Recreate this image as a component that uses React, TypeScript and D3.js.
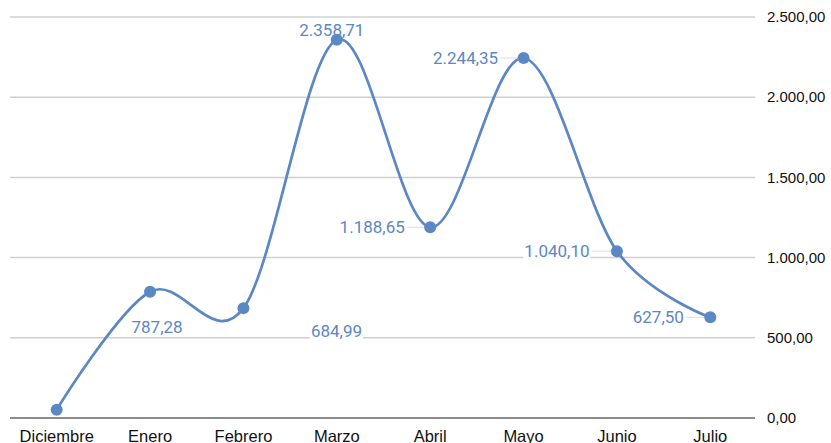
import { useEffect, useRef } from 'react';
import * as d3 from 'd3';

const months = ['Diciembre', 'Enero', 'Febrero', 'Marzo', 'Abril', 'Mayo', 'Junio', 'Julio'];
const amounts = [52, 787.28, 684.99, 2358.71, 1188.65, 2244.35, 1040.1, 627.5];
const showLabel = [false, true, true, true, true, true, true, true];
const yTicks = [0, 500, 1000, 1500, 2000, 2500];

// where each value label sits relative to its point
const labelOffsets = {
    Diciembre: [0, 0],
    Enero: [7, 35],
    Febrero: [93, 23],
    Marzo: [-5, -10],
    Abril: [-58, 0],
    Mayo: [-58, 0],
    Junio: [-60, 0],
    Julio: [-52, 0],
};

const W = 831;
const H = 443;
const BLUE = '#5b87c4';

const fmt = (v: number) => {
    const [int, dec] = v.toFixed(2).split('.');
    return `${int.replace(/\B(?=(\d{3})+(?!\d))/g, '.')},${dec}`;
};

export default function App() {
    const ref = useRef(null);

    useEffect(() => {
        const svg = d3.select(ref.current);
        svg.selectAll('*').remove();

        const x = d3.scaleBand().domain(months).range([10, 757]);
        const y = d3.scaleLinear().domain([0, 2500]).range([418, 17]);
        const cx = (m: string) => x(m) + x.bandwidth() / 2;

        // gridlines
        svg.append('g')
            .selectAll('line')
            .data(yTicks)
            .join('line')
            .attr('x1', 10)
            .attr('x2', 755)
            .attr('y1', (d) => y(d))
            .attr('y2', (d) => y(d))
            .attr('stroke', (d) => (d === 0 ? '#666' : '#d0d0d0'))
            .attr('stroke-width', 1.5);

        // right axis labels
        svg.append('g')
            .selectAll('text')
            .data(yTicks)
            .join('text')
            .attr('x', 767)
            .attr('y', (d) => y(d))
            .attr('dy', '0.35em')
            .attr('font-family', 'Liberation Sans, Arial, sans-serif')
            .attr('font-size', 15)
            .attr('fill', '#111')
            .text((d) => fmt(d));

        // category labels
        svg.append('g')
            .selectAll('text')
            .data(months)
            .join('text')
            .attr('x', (d) => cx(d))
            .attr('y', 442)
            .attr('text-anchor', 'middle')
            .attr('font-family', 'Liberation Sans, Arial, sans-serif')
            .attr('font-size', 16.5)
            .attr('fill', '#111')
            .text((d) => d);

        const pts = months.map((m, i) => [cx(m), y(amounts[i])]);

        const line = d3.line().curve(d3.curveCatmullRom.alpha(0));
        svg.append('path')
            .attr('d', line(pts))
            .attr('fill', 'none')
            .attr('stroke', BLUE)
            .attr('stroke-width', 2.7);

        // leader lines + labels
        const lab = svg.append('g');
        months.forEach((m, i) => {
            if (!showLabel[i]) return;
            const [dx, dy] = labelOffsets[m];
            const [px, py] = pts[i];
            const t = lab.append('text')
                .attr('x', px + dx)
                .attr('y', py + dy)
                .attr('dy', '0.35em')
                .attr('text-anchor', 'middle')
                .attr('font-family', 'Roboto, sans-serif')
                .attr('font-size', 17)
                .attr('fill', BLUE)
                .text(fmt(amounts[i]));
            const bb = (t.node() as SVGTextElement).getBBox();
            if (dy === 0) {
                lab.insert('line', 'text')
                    .attr('x1', bb.x + bb.width + 2)
                    .attr('x2', px - 4)
                    .attr('y1', py)
                    .attr('y2', py)
                    .attr('stroke', '#e2e2e2')
                    .attr('stroke-width', 1.2);
            }
            lab.insert('rect', 'text')
                .attr('x', bb.x - 1)
                .attr('y', bb.y + 2)
                .attr('width', bb.width + 2)
                .attr('height', bb.height - 4)
                .attr('fill', 'white');
        });

        svg.append('g')
            .selectAll('circle')
            .data(pts)
            .join('circle')
            .attr('cx', (d) => d[0])
            .attr('cy', (d) => d[1])
            .attr('r', 6)
            .attr('fill', BLUE);
    }, []);

    return (
        <svg
            ref={ref}
            width={W}
            height={H}
            style={{ position: 'absolute', left: 0, top: 0, background: 'white' }}
        />
    );
}
